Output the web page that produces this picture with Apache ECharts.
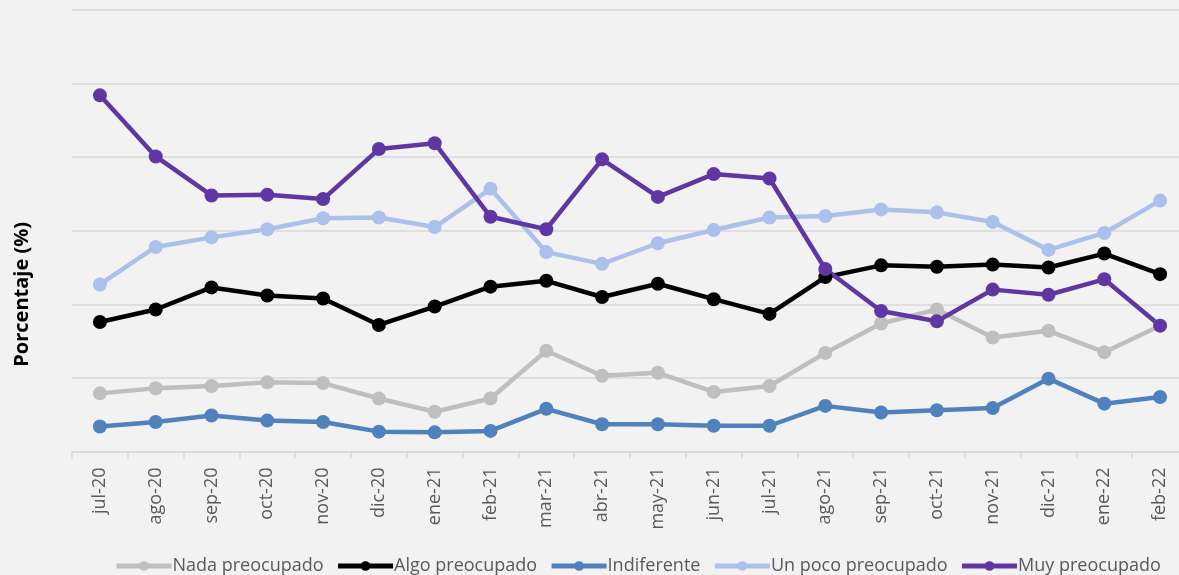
<!DOCTYPE html>
<html>
<head>
<meta charset="utf-8">
<script src="https://cdn.jsdelivr.net/npm/echarts@6/dist/echarts.min.js"></script>
<style>
  html, body { margin: 0; padding: 0; background: #f2f2f2; }
  #chart { width: 1179px; height: 575px; }
</style>
</head>
<body>
<div id="chart"></div>
<script>
// meses
var months = ['jul-20', 'ago-20', 'sep-20', 'oct-20', 'nov-20', 'dic-20', 'ene-21', 'feb-21', 'mar-21', 'abr-21',
  'may-21', 'jun-21', 'jul-21', 'ago-21', 'sep-21', 'oct-21', 'nov-21', 'dic-21', 'ene-22', 'feb-22'];

// valores (%)
var nada = [7.9, 8.6, 8.9, 9.4, 9.3, 7.2, 5.4, 7.2, 13.7, 10.3, 10.7, 8.1, 8.9, 13.4, 17.4, 19.3, 15.5, 16.4, 13.5, 17.1];
var algo = [17.6, 19.3, 22.3, 21.2, 20.8, 17.2, 19.7, 22.4, 23.2, 21.0, 22.8, 20.7, 18.7, 23.7, 25.3, 25.1, 25.4, 25.0, 26.9, 24.1];
var indiferente = [3.4, 4.0, 4.9, 4.2, 4.0, 2.7, 2.6, 2.8, 5.8, 3.7, 3.7, 3.5, 3.5, 6.2, 5.3, 5.6, 5.9, 9.9, 6.5, 7.4];
var unPoco = [22.7, 27.8, 29.1, 30.2, 31.7, 31.8, 30.5, 35.7, 27.1, 25.5, 28.3, 30.1, 31.8, 32.0, 32.9, 32.5, 31.2, 27.4, 29.7, 34.1];
var muy = [48.4, 40.1, 34.8, 34.9, 34.3, 41.1, 41.9, 31.9, 30.2, 39.7, 34.6, 37.7, 37.1, 24.8, 19.1, 17.7, 22.0, 21.3, 23.4, 17.1];

var chart = echarts.init(document.getElementById('chart'));

function serie(name, data, color) {
  return {
    name: name,
    type: 'line',
    data: data,
    symbol: 'circle',
    symbolSize: 14,
    lineStyle: { width: 4.5, color: color },
    itemStyle: { color: color },
    emphasis: { disabled: true }
  };
}

var option = {
  backgroundColor: '#f2f2f2',
  animation: false,
  // el area del grafico sigue un poco mas alla del borde derecho
  grid: { left: 72, width: 1116, top: 10, bottom: 123.5, outerBoundsMode: 'none', containLabel: false },
  legend: {
    bottom: 0,
    left: 114,
    padding: 0,
    itemWidth: 55,
    itemHeight: 12,
    itemGap: 12,
    lineStyle: { width: 5 },
    textStyle: { fontFamily: 'Open Sans', fontSize: 18, color: '#595959', padding: [0, 0, 0, -4] },
    data: ['Nada preocupado', 'Algo preocupado', 'Indiferente', 'Un poco preocupado', 'Muy preocupado']
  },
  graphic: [{
    type: 'text',
    left: 12,
    top: 222,
    rotation: Math.PI / 2,
    style: {
      text: 'Porcentaje (%)',
      font: 'bold 20px "Open Sans"',
      fill: '#000'
    }
  }],
  xAxis: {
    type: 'category',
    data: months,
    axisLine: { lineStyle: { color: '#d9d9d9', width: 1.5 } },
    axisTick: { show: true, length: 7, lineStyle: { color: '#d9d9d9', width: 1.5 } },
    axisLabel: {
      rotate: 90,
      margin: 16,
      fontFamily: 'Open Sans',
      fontSize: 18,
      color: '#595959'
    }
  },
  yAxis: {
    type: 'value',
    min: 0,
    max: 60,
    interval: 10,
    axisLabel: { show: false },
    axisLine: { show: false },
    axisTick: { show: false },
    splitLine: { lineStyle: { color: '#d9d9d9', width: 1.5 } }
  },
  series: [
    serie('Nada preocupado', nada, '#bfbfbf'),
    serie('Algo preocupado', algo, '#000000'),
    serie('Indiferente', indiferente, '#4f81bd'),
    serie('Un poco preocupado', unPoco, '#abc1eb'),
    serie('Muy preocupado', muy, '#5f37a2')
  ]
};

chart.setOption(option);
</script>
</body>
</html>
